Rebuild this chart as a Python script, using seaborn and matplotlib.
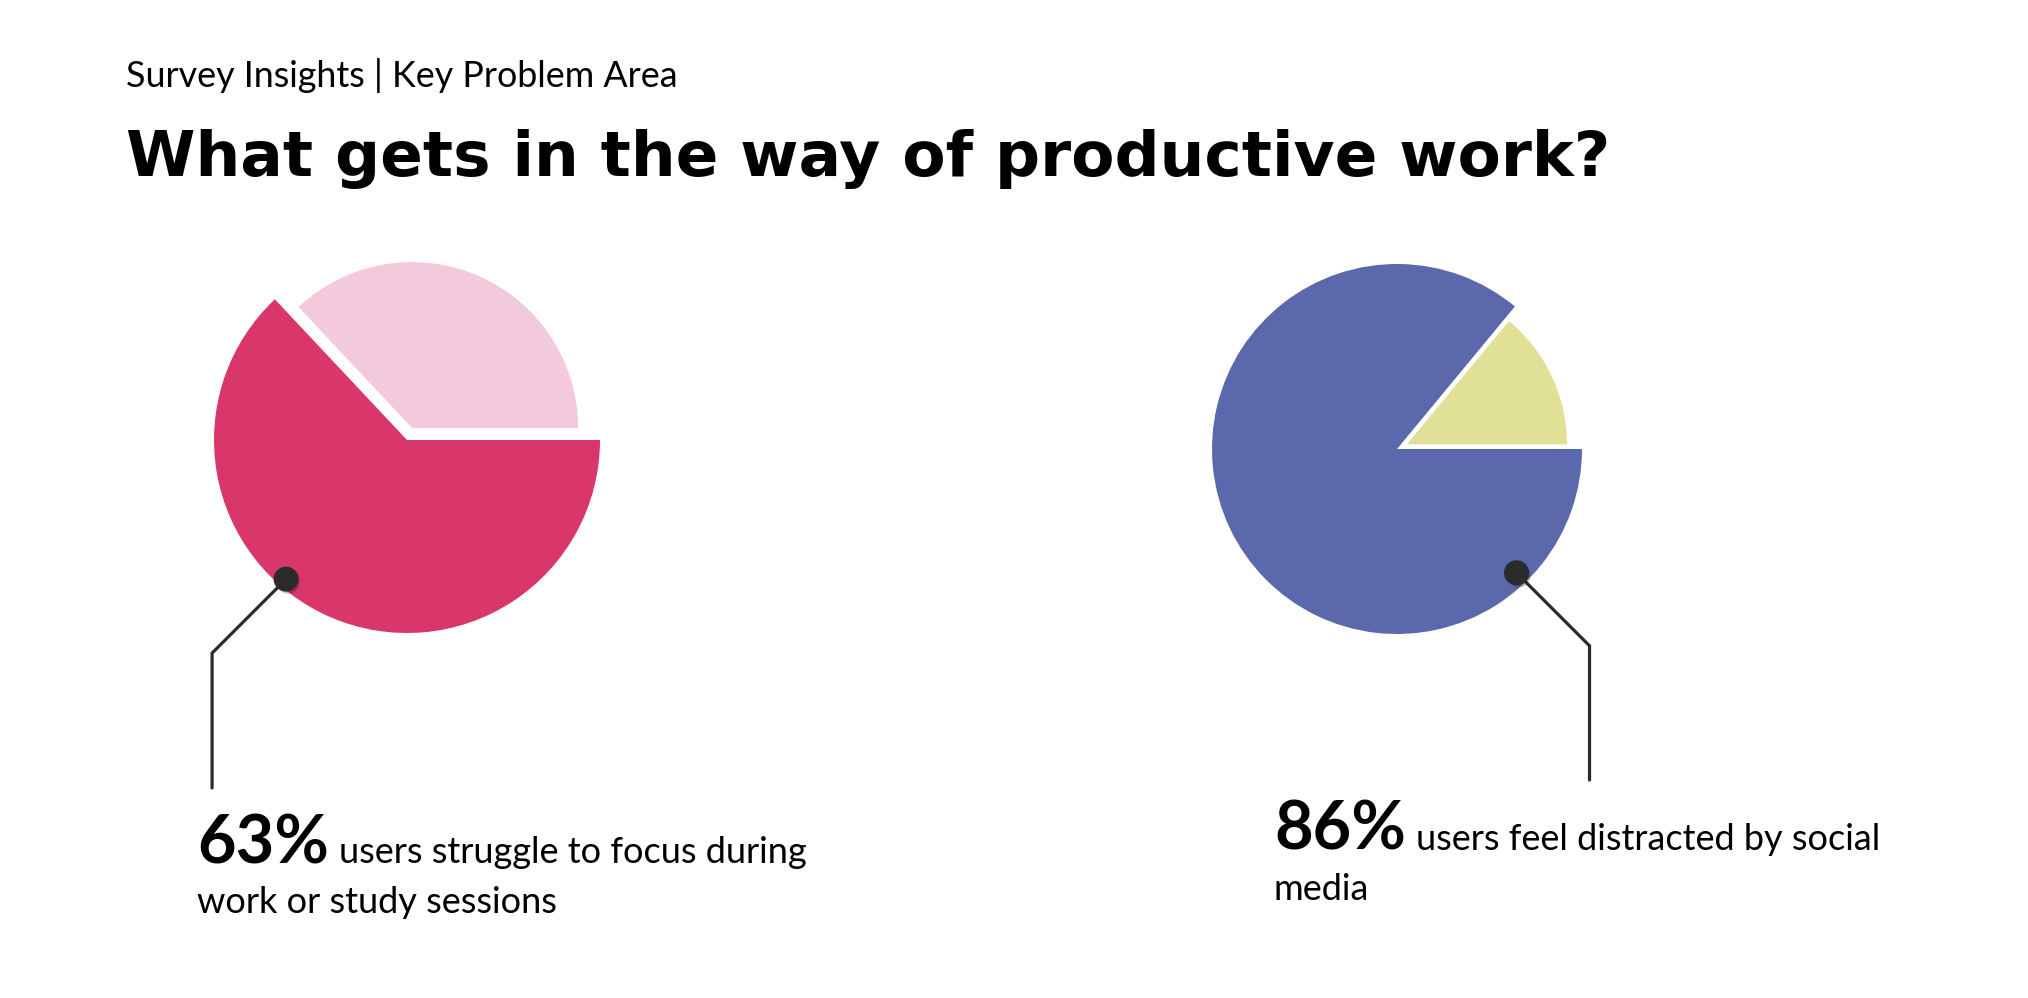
import numpy as np
import matplotlib
matplotlib.use("Agg")
import matplotlib.pyplot as plt
import matplotlib.patheffects as pe
import seaborn as sns

# survey shares (percent)
focus_labels = ["Struggle to focus", "Other"]
focus_share = [63, 37]
social_labels = ["Distracted by social media", "Other"]
social_share = [86, 14]

focus_colors = ["#D9376A", "#F2CADC"]
social_colors = ["#5B68AB", "#E0E096"]

subtitle = "Survey Insights | Key Problem Area"
title = "What gets in the way of productive work?"
focus_big = "63%"
focus_text = ["users struggle to focus during", "work or study sessions"]
social_big = "86%"
social_text = ["users feel distracted by social", "media"]

W, H = 2028, 998
DARK = "#2B2B2B"

sns.set_theme(style="white")
plt.rcParams["font.family"] = ["Lato", "DejaVu Sans"]
plt.rcParams["text.color"] = "black"

fig = plt.figure(figsize=(W / 100, H / 100), dpi=100)
fig.patch.set_facecolor("white")
ax = fig.add_axes([0, 0, 1, 1])


def draw_pie(values, colors, center, radius, explode_px, inner_radius):
    wedges, _ = ax.pie(values, colors=colors, startangle=0, counterclock=False,
                       center=center, radius=radius,
                       explode=[0, explode_px],
                       wedgeprops=dict(linewidth=0))
    wedges[1].set_radius(inner_radius)
    return wedges


def callout(center, radius, frac, angle_deg, dx, y_end):
    a = np.deg2rad(angle_deg)
    px = center[0] + frac * radius * np.cos(a)
    py = center[1] + frac * radius * np.sin(a)
    ex, ey = px + dx, py - abs(dx)
    ax.plot([px, ex, ex], [py, ey, H - y_end], color=DARK, lw=2.3,
            solid_joinstyle="miter", zorder=4)
    ax.plot([px], [py], marker="o", ms=17, color=DARK, zorder=5,
            path_effects=[pe.SimplePatchShadow(offset=(1.5, -2), alpha=0.25),
                          pe.Normal()])


def caption(x, y, big, lines, gap=10, leading=50):
    t = ax.text(x, H - y, big, fontsize=48, fontweight="bold", va="baseline",
                color="black")
    fig.canvas.draw()
    bb = t.get_window_extent()
    ax.text(bb.x1 + gap, H - y, lines[0], fontsize=26, va="baseline",
            color="black")
    ax.text(x, H - y - leading, lines[1], fontsize=26, va="baseline",
            color="black")


left_c = (407, H - 440)
right_c = (1397, H - 449)
draw_pie(focus_share, focus_colors, left_c, 193, 13, 166)
draw_pie(social_share, social_colors, right_c, 185, 11, 160)

callout(left_c, 193, 0.955, 229, -74, 788)
callout(right_c, 185, 0.93, -46, 73, 780)

ax.set_xlim(0, W)
ax.set_ylim(0, H)
ax.set_aspect("equal")
ax.axis("off")

# headings
ax.text(126, H - 87, subtitle, fontsize=25.8, color="black", va="baseline")
ax.text(126, H - 176, title, fontsize=45.4, fontweight="bold", color="black",
        va="baseline", family=["DejaVu Sans"])

# captions
caption(197, 863, focus_big, focus_text)
caption(1274, 850, social_big, social_text)

fig.savefig("out.png", dpi=100, facecolor="white")
